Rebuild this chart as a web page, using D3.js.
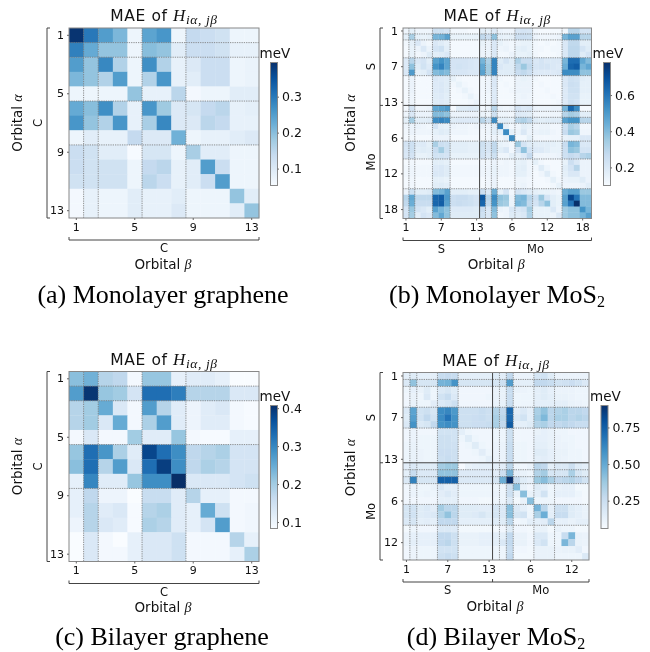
<!DOCTYPE html>
<html>
<head>
<meta charset="utf-8">
<script src="https://cdn.jsdelivr.net/npm/d3@7"></script>
<style>
  html, body { margin: 0; padding: 0; background: #fff; }
  svg { display: block; filter: blur(0.45px); }
  text { font-family: "DejaVu Sans", sans-serif; fill: #111; }
  .math { font-family: "Liberation Serif", serif; font-style: italic; }
  .caption { font-family: "Liberation Serif", serif; font-size: 26px; fill: #000; }
  .domain { display: none; }
</style>
</head>
<body>
<div id="vis"></div>
<script>
// mean absolute error, one matrix per material (rows = alpha, columns = beta)
var monoGraphene = [
  [.39,.30,.25,.21,.07,.24,.26,.07,.14,.13,.12,.07,.07],
  [.29,.23,.19,.19,.07,.20,.19,.09,.13,.13,.12,.08,.08],
  [.25,.19,.28,.16,.07,.27,.16,.08,.10,.13,.13,.07,.075],
  [.21,.19,.16,.25,.07,.16,.26,.08,.09,.13,.13,.07,.075],
  [.07,.07,.07,.07,.19,.08,.08,.15,.06,.07,.07,.09,.09],
  [.23,.20,.27,.16,.08,.26,.18,.10,.11,.14,.15,.08,.085],
  [.26,.19,.16,.26,.08,.17,.28,.10,.10,.15,.14,.08,.08],
  [.07,.09,.08,.08,.14,.10,.10,.22,.07,.08,.08,.09,.10],
  [.13,.12,.09,.09,.055,.11,.11,.07,.17,.09,.09,.07,.07],
  [.13,.12,.12,.12,.07,.14,.15,.08,.09,.25,.13,.07,.07],
  [.12,.12,.12,.12,.07,.15,.13,.08,.09,.13,.25,.07,.07],
  [.06,.08,.07,.07,.09,.08,.08,.09,.07,.07,.07,.19,.09],
  [.06,.08,.07,.07,.09,.08,.08,.10,.07,.07,.07,.09,.19]
];

var biGraphene = [
  [.22,.24,.18,.17,.09,.21,.21,.11,.12,.12,.11,.08,.08],
  [.27,.40,.21,.20,.14,.33,.33,.31,.18,.18,.18,.13,.13],
  [.18,.20,.25,.13,.09,.27,.18,.12,.10,.12,.13,.09,.085],
  [.18,.20,.13,.25,.09,.19,.27,.12,.10,.12,.12,.09,.085],
  [.09,.13,.09,.09,.20,.12,.12,.21,.09,.085,.085,.11,.11],
  [.21,.33,.28,.19,.12,.38,.33,.29,.17,.18,.19,.14,.14],
  [.22,.33,.18,.27,.13,.33,.39,.29,.17,.19,.18,.14,.14],
  [.11,.30,.12,.12,.21,.29,.29,.41,.13,.13,.13,.14,.15],
  [.11,.17,.10,.10,.08,.16,.16,.12,.18,.11,.11,.09,.09],
  [.11,.18,.12,.13,.085,.18,.19,.12,.11,.25,.15,.09,.095],
  [.10,.18,.13,.12,.085,.19,.18,.12,.11,.14,.27,.09,.095],
  [.08,.13,.09,.08,.11,.13,.13,.15,.09,.09,.09,.18,.11],
  [.08,.13,.09,.09,.11,.13,.13,.15,.09,.09,.09,.11,.19]
];

var monoMoS2 = [
  [.13,.16,.13,.13,.13,.24,.24,.22,.12,.12,.12,.11,.11,.17,.16,.19,.14,.13,.13,.21,.22,.21,.12,.11,.11,.11,.11,.12,.30,.30,.22,.22],
  [.16,.33,.16,.15,.16,.42,.43,.48,.15,.15,.15,.15,.15,.28,.25,.38,.16,.15,.16,.25,.25,.24,.14,.13,.13,.13,.14,.42,.48,.48,.30,.30],
  [.12,.16,.20,.14,.12,.20,.18,.16,.11,.11,.11,.11,.11,.15,.14,.20,.15,.13,.12,.14,.15,.15,.12,.11,.12,.11,.12,.20,.28,.28,.17,.17],
  [.11,.15,.14,.20,.14,.22,.24,.17,.11,.11,.11,.11,.11,.14,.14,.20,.13,.14,.12,.16,.17,.15,.12,.12,.11,.12,.12,.20,.29,.29,.22,.18],
  [.11,.15,.12,.14,.18,.17,.18,.20,.11,.11,.11,.11,.11,.14,.14,.20,.12,.12,.14,.15,.15,.16,.12,.11,.11,.11,.12,.20,.29,.29,.18,.22],
  [.19,.30,.20,.22,.17,.48,.52,.47,.22,.22,.22,.21,.20,.42,.32,.56,.18,.22,.18,.32,.26,.26,.20,.22,.20,.20,.20,.42,.62,.62,.46,.40],
  [.19,.38,.18,.23,.19,.52,.56,.47,.22,.23,.22,.21,.20,.46,.34,.56,.20,.18,.18,.28,.36,.28,.21,.22,.22,.20,.19,.44,.64,.66,.42,.46],
  [.20,.50,.16,.17,.22,.40,.42,.40,.21,.21,.21,.20,.20,.48,.34,.56,.18,.18,.18,.26,.28,.25,.19,.19,.19,.19,.20,.54,.54,.54,.38,.38],
  [.11,.14,.11,.11,.11,.20,.19,.18,.15,.12,.11,.11,.11,.12,.13,.20,.12,.11,.11,.14,.15,.14,.12,.11,.11,.11,.11,.20,.24,.23,.17,.16],
  [.11,.14,.11,.11,.11,.19,.20,.18,.12,.15,.12,.11,.11,.12,.13,.20,.11,.12,.11,.14,.14,.14,.11,.12,.11,.11,.11,.20,.25,.24,.16,.16],
  [.11,.14,.11,.11,.11,.19,.20,.18,.11,.12,.15,.12,.11,.12,.13,.19,.11,.11,.12,.14,.14,.14,.11,.11,.12,.11,.11,.19,.24,.24,.16,.16],
  [.11,.13,.11,.11,.11,.18,.19,.17,.11,.11,.12,.15,.12,.12,.12,.19,.11,.11,.11,.13,.14,.13,.11,.11,.11,.12,.11,.19,.23,.23,.15,.15],
  [.11,.13,.11,.11,.11,.18,.19,.18,.11,.11,.11,.12,.14,.12,.12,.19,.11,.11,.11,.13,.13,.13,.11,.11,.11,.11,.12,.19,.24,.22,.15,.15],
  [.11,.22,.13,.13,.14,.46,.48,.50,.11,.18,.18,.19,.18,.12,.14,.30,.14,.13,.14,.22,.19,.20,.14,.14,.14,.14,.14,.42,.64,.54,.11,.11],
  [.13,.20,.14,.14,.14,.40,.40,.38,.14,.14,.14,.14,.14,.14,.13,.24,.13,.13,.12,.19,.18,.17,.13,.13,.13,.13,.13,.30,.34,.32,.17,.17],
  [.16,.34,.17,.17,.18,.54,.56,.54,.18,.19,.19,.19,.18,.30,.24,.54,.17,.17,.16,.30,.32,.28,.18,.17,.18,.18,.18,.48,.52,.52,.30,.30],
  [.13,.14,.14,.13,.12,.22,.16,.15,.14,.13,.13,.12,.13,.14,.13,.17,.55,.16,.12,.13,.17,.15,.13,.14,.14,.12,.12,.24,.33,.30,.12,.12],
  [.12,.14,.13,.13,.13,.16,.18,.17,.13,.13,.13,.12,.12,.12,.13,.17,.16,.54,.16,.14,.20,.14,.14,.15,.15,.13,.12,.26,.36,.34,.13,.13],
  [.11,.12,.11,.11,.11,.14,.14,.14,.11,.11,.11,.11,.11,.12,.12,.14,.12,.15,.54,.12,.12,.16,.12,.12,.12,.12,.12,.15,.16,.16,.20,.20],
  [.22,.24,.18,.19,.16,.33,.25,.24,.17,.17,.17,.16,.16,.24,.21,.28,.15,.14,.12,.36,.22,.18,.17,.17,.17,.16,.15,.26,.42,.40,.20,.20],
  [.21,.24,.17,.18,.17,.26,.34,.24,.17,.17,.17,.16,.16,.23,.21,.28,.17,.20,.12,.22,.38,.22,.19,.19,.17,.15,.15,.25,.38,.36,.22,.22],
  [.20,.22,.15,.15,.16,.23,.23,.22,.15,.15,.15,.15,.15,.22,.19,.24,.13,.13,.16,.16,.19,.27,.13,.13,.13,.13,.14,.24,.27,.25,.30,.32],
  [.11,.12,.11,.11,.11,.17,.17,.16,.11,.11,.11,.11,.11,.12,.12,.14,.12,.13,.12,.15,.16,.13,.16,.12,.11,.11,.11,.15,.25,.20,.14,.14],
  [.12,.13,.12,.12,.12,.19,.20,.18,.12,.12,.12,.12,.12,.13,.13,.15,.13,.13,.12,.16,.17,.13,.12,.18,.13,.11,.11,.17,.22,.30,.14,.14],
  [.12,.13,.12,.12,.12,.20,.20,.18,.12,.12,.12,.12,.12,.13,.13,.15,.13,.13,.12,.16,.16,.13,.11,.13,.18,.12,.11,.16,.20,.20,.14,.14],
  [.11,.12,.11,.11,.11,.16,.16,.15,.11,.11,.11,.11,.11,.11,.12,.14,.11,.11,.11,.13,.13,.12,.11,.11,.12,.16,.12,.14,.15,.15,.18,.14],
  [.11,.12,.11,.11,.11,.17,.18,.17,.11,.11,.11,.11,.11,.11,.12,.14,.11,.11,.11,.13,.14,.12,.11,.11,.11,.12,.15,.13,.13,.13,.14,.17],
  [.14,.24,.17,.17,.18,.40,.42,.48,.17,.17,.17,.16,.16,.25,.20,.44,.16,.22,.12,.22,.20,.18,.16,.15,.15,.14,.13,.44,.48,.48,.36,.36],
  [.30,.46,.28,.28,.28,.64,.66,.50,.25,.26,.26,.24,.22,.68,.30,.54,.38,.36,.14,.40,.42,.30,.24,.36,.22,.17,.15,.48,.72,.60,.40,.40],
  [.28,.44,.26,.26,.26,.64,.66,.48,.25,.26,.25,.24,.22,.64,.28,.52,.36,.34,.14,.42,.40,.28,.22,.30,.38,.17,.15,.48,.60,.78,.40,.40],
  [.22,.36,.22,.20,.17,.48,.42,.38,.19,.19,.19,.19,.18,.26,.20,.40,.14,.13,.20,.20,.22,.34,.15,.15,.15,.20,.14,.35,.38,.38,.52,.42],
  [.22,.34,.17,.22,.20,.40,.46,.38,.18,.18,.18,.18,.18,.24,.20,.38,.12,.13,.18,.18,.20,.32,.15,.15,.15,.14,.20,.35,.38,.38,.42,.48]
];

var biMoS2 = [
  [.14,.16,.14,.14,.14,.26,.27,.26,.14,.14,.14,.14,.14,.16,.15,.28,.11,.11,.11,.20,.22,.16,.11,.11,.11,.11,.11],
  [.18,.40,.20,.20,.20,.46,.47,.58,.20,.20,.20,.20,.20,.20,.24,.55,.15,.14,.14,.28,.28,.26,.22,.23,.25,.22,.18],
  [.10,.13,.12,.16,.10,.18,.20,.16,.09,.09,.09,.09,.09,.12,.12,.26,.12,.11,.10,.14,.16,.13,.11,.11,.11,.10,.10],
  [.09,.12,.10,.18,.10,.22,.26,.18,.09,.09,.09,.09,.10,.12,.12,.26,.10,.10,.10,.14,.16,.14,.12,.12,.11,.10,.10],
  [.09,.12,.10,.10,.15,.18,.20,.24,.09,.09,.09,.09,.09,.12,.12,.26,.10,.10,.10,.14,.14,.14,.14,.14,.12,.11,.10],
  [.18,.52,.22,.24,.20,.60,.62,.56,.24,.24,.24,.26,.24,.32,.28,.72,.15,.18,.14,.34,.40,.30,.32,.34,.30,.30,.28],
  [.16,.54,.22,.28,.22,.60,.68,.58,.24,.24,.25,.26,.24,.34,.30,.72,.18,.22,.14,.36,.44,.30,.34,.34,.30,.32,.30],
  [.18,.58,.18,.20,.28,.58,.60,.58,.24,.24,.25,.25,.26,.34,.28,.76,.14,.14,.16,.32,.34,.28,.28,.30,.28,.26,.26],
  [.09,.11,.09,.09,.09,.22,.22,.22,.14,.10,.09,.09,.09,.10,.10,.24,.09,.09,.09,.12,.13,.12,.10,.10,.09,.09,.09],
  [.09,.11,.10,.10,.10,.24,.24,.22,.10,.16,.10,.09,.09,.10,.10,.24,.09,.09,.09,.13,.13,.12,.11,.10,.10,.09,.09],
  [.10,.12,.10,.10,.10,.24,.24,.23,.09,.10,.16,.10,.09,.11,.11,.26,.10,.10,.09,.14,.14,.12,.11,.11,.10,.09,.09],
  [.10,.12,.11,.10,.10,.25,.25,.24,.09,.09,.10,.15,.10,.11,.11,.26,.10,.10,.09,.16,.16,.13,.12,.12,.10,.10,.09],
  [.10,.12,.11,.10,.10,.24,.26,.24,.09,.09,.09,.10,.14,.11,.11,.26,.10,.10,.09,.14,.15,.13,.12,.11,.10,.10,.09],
  [.15,.18,.16,.16,.16,.36,.38,.38,.07,.12,.13,.14,.14,.14,.15,.30,.10,.09,.11,.30,.28,.14,.18,.18,.24,.16,.14],
  [.14,.26,.18,.18,.18,.40,.40,.40,.17,.17,.17,.17,.17,.15,.24,.46,.14,.12,.10,.32,.36,.20,.20,.20,.34,.20,.16],
  [.18,.64,.20,.20,.20,.74,.74,.74,.18,.18,.18,.18,.18,.20,.48,.90,.26,.16,.13,.38,.42,.34,.28,.30,.32,.28,.22],
  [.09,.11,.10,.10,.12,.18,.14,.14,.10,.10,.10,.10,.10,.10,.10,.24,.42,.12,.09,.16,.14,.10,.12,.13,.13,.08,.08],
  [.09,.11,.10,.11,.10,.15,.18,.15,.10,.10,.10,.10,.10,.11,.10,.24,.12,.42,.12,.14,.22,.10,.13,.13,.13,.10,.08],
  [.09,.09,.09,.09,.09,.14,.14,.14,.09,.09,.09,.08,.08,.10,.10,.18,.08,.12,.42,.10,.10,.10,.09,.09,.09,.09,.08],
  [.20,.22,.16,.18,.15,.36,.30,.30,.16,.16,.16,.15,.15,.20,.18,.42,.18,.14,.10,.46,.30,.14,.24,.24,.16,.14,.12],
  [.20,.22,.16,.17,.18,.32,.40,.30,.16,.16,.17,.20,.16,.20,.18,.42,.20,.22,.10,.34,.48,.14,.26,.26,.16,.14,.12],
  [.18,.20,.14,.15,.14,.28,.28,.28,.14,.14,.14,.14,.14,.16,.16,.30,.09,.10,.14,.14,.15,.30,.13,.13,.12,.14,.14],
  [.08,.10,.09,.09,.09,.18,.18,.17,.08,.08,.08,.08,.08,.08,.09,.16,.09,.09,.08,.12,.12,.08,.12,.10,.10,.08,.08],
  [.11,.13,.13,.13,.13,.28,.28,.24,.12,.12,.12,.13,.13,.14,.14,.28,.12,.12,.09,.18,.18,.10,.10,.26,.45,.12,.11],
  [.11,.14,.13,.13,.13,.28,.30,.24,.12,.12,.12,.13,.13,.14,.18,.28,.12,.12,.09,.18,.22,.10,.10,.45,.30,.12,.11],
  [.09,.11,.10,.10,.10,.22,.22,.22,.10,.10,.10,.10,.10,.10,.10,.26,.09,.09,.08,.12,.12,.12,.11,.12,.12,.15,.09],
  [.09,.11,.10,.10,.10,.24,.26,.24,.10,.10,.10,.10,.10,.10,.10,.28,.08,.08,.08,.12,.12,.12,.10,.10,.10,.10,.18]
];

// orbital group boundaries and tick labels
var groupsC = [1, 2, 5, 8];
var groupsMono = [1, 2, 5, 8, 13, 14, 15, 16, 19, 22, 27];
var groupsBi = [1, 2, 5, 8, 13, 14, 15, 16, 19, 22];
var ticksC = ["1", "5", "9", "13"];
var ticksMono = ["1", "7", "13", "6", "12", "18"];
var ticksBi = ["1", "7", "13", "6", "12"];
var barTicksA = [0.1, 0.2, 0.3];
var barTicksB = [0.2, 0.4, 0.6];
var barTicksC = [0.1, 0.2, 0.3, 0.4];
var barTicksD = [0.25, 0.5, 0.75];

var panels = [
  { m: monoGraphene, groups: groupsC, ticks: ticksC, step: 4, atoms: [["C", 13]], range: [0.053, 0.395], barTicks: barTicksA, fmt: ".1f",
    x0: 69, x1: 259, y0: 28, y1: 218, brL: 47, barX: 270.5, barY: 62.5, caption: "(a) Monolayer graphene", capX: 163, capY: 303 },
  { m: monoMoS2, groups: groupsMono, ticks: ticksMono, step: 6, atoms: [["S", 13], ["Mo", 19]], range: [0.10, 0.78], barTicks: barTicksB, fmt: ".1f",
    x0: 403, x1: 591.5, y0: 28, y1: 218.5, brL: 380, barX: 603.5, barY: 62.5, caption: "(b) Monolayer MoS", capX: 497, capY: 303 },
  { m: biGraphene, groups: groupsC, ticks: ticksC, step: 4, atoms: [["C", 13]], range: [0.083, 0.407], barTicks: barTicksC, fmt: ".1f",
    x0: 69, x1: 259, y0: 371.5, y1: 561.5, brL: 47, barX: 270.5, barY: 405.5, caption: "(c) Bilayer graphene", capX: 162, capY: 645 },
  { m: biMoS2, groups: groupsBi, ticks: ticksBi, step: 6, atoms: [["S", 13], ["Mo", 14]], range: [0.06, 0.90], barTicks: barTicksD, fmt: ".2f",
    x0: 403, x1: 589, y0: 372.5, y1: 560, brL: 380, barX: 601, barY: 405.5, caption: "(d) Bilayer MoS", capX: 496, capY: 645 }
];

var svg = d3.select("#vis").append("svg").attr("width", 650).attr("height", 652);
var blues = d3.piecewise(d3.interpolateRgb, d3.schemeBlues[9]);

panels.forEach(function(p, idx) {
  var n = p.m.length;
  var g = svg.append("g");
  var x = d3.scaleBand().domain(d3.range(n)).range([p.x0, p.x1]);
  var y = d3.scaleBand().domain(d3.range(n)).range([p.y0, p.y1]);
  var colour = d3.scaleSequential(blues).domain(p.range);

  // cells
  p.m.forEach(function(row, r) {
    g.selectAll(".c" + r)
      .data(row)
      .enter()
      .append("rect")
      .attr("class", "c" + r)
      .attr("x", function(d, c) { return x(c); })
      .attr("y", y(r))
      .attr("width", x.bandwidth() + 0.3)
      .attr("height", y.bandwidth() + 0.3)
      .attr("fill", function(d) { return colour(d); });
  });

  // orbital group lines, the S/Mo one is solid
  p.groups.forEach(function(b) {
    var solid = b === 13;
    var px = p.x0 + b * x.step();
    var py = p.y0 + b * y.step();
    [[px, p.y0, px, p.y1], [p.x0, py, p.x1, py]].forEach(function(l) {
      g.append("line")
        .attr("x1", l[0]).attr("y1", l[1]).attr("x2", l[2]).attr("y2", l[3])
        .attr("stroke", solid ? "#444" : "#777")
        .attr("stroke-width", solid ? 1 : 0.8)
        .attr("stroke-dasharray", solid ? null : "1.3,1");
    });
  });

  g.append("rect")
    .attr("x", p.x0).attr("y", p.y0)
    .attr("width", p.x1 - p.x0).attr("height", p.y1 - p.y0)
    .attr("fill", "none").attr("stroke", "#888").attr("stroke-width", 1);

  // axes
  var tickVals = p.ticks.map(function(t, i) { return i * p.step; });
  var fmt = function(v) { return p.ticks[v / p.step]; };
  var ax = g.append("g").attr("transform", "translate(0," + p.y1 + ")")
    .call(d3.axisBottom(x).tickValues(tickVals).tickFormat(fmt).tickSize(2).tickPadding(3));
  var ay = g.append("g").attr("transform", "translate(" + p.x0 + ",0)")
    .call(d3.axisLeft(y).tickValues(tickVals).tickFormat(fmt).tickSize(2).tickPadding(3));
  [ax, ay].forEach(function(a) {
    a.attr("font-family", null).attr("font-size", null);
    a.selectAll("text").style("font-size", "11px");
    a.selectAll("line").attr("stroke", "#666");
  });

  // atom brackets
  var brB = p.y1 + 22;
  var cum = 0;
  var cuts = [0];
  p.atoms.forEach(function(a) { cum += a[1]; cuts.push(cum); });
  g.append("path")
    .attr("fill", "none").attr("stroke", "#444").attr("stroke-width", 1)
    .attr("d", "M" + p.x0 + "," + (brB - 3) + "V" + brB + "H" + p.x1 + "V" + (brB - 3)
      + (cuts.length > 2 ? "M" + (p.x0 + cuts[1] * x.step()) + "," + (brB - 3) + "V" + brB : ""));
  g.append("path")
    .attr("fill", "none").attr("stroke", "#444").attr("stroke-width", 1)
    .attr("d", "M" + (p.brL + 3) + "," + p.y0 + "H" + p.brL + "V" + p.y1 + "H" + (p.brL + 3)
      + (cuts.length > 2 ? "M" + (p.brL + 3) + "," + (p.y0 + cuts[1] * y.step()) + "H" + p.brL : ""));
  p.atoms.forEach(function(a, i) {
    var mid = (cuts[i] + cuts[i + 1]) / 2;
    g.append("text")
      .attr("x", p.x0 + mid * x.step()).attr("y", brB + 8)
      .attr("dy", "0.35em").attr("text-anchor", "middle").style("font-size", "11.5px")
      .text(a[0]);
    g.append("text")
      .attr("transform", "translate(" + (p.brL - 9) + "," + (p.y0 + mid * y.step()) + ") rotate(-90)")
      .attr("dy", "0.35em").attr("text-anchor", "middle").style("font-size", "11.5px")
      .text(a[0]);
  });

  // axis titles
  var xt = g.append("text")
    .attr("x", (p.x0 + p.x1) / 2 - 1).attr("y", brB + 24)
    .attr("dy", "0.35em").attr("text-anchor", "middle").style("font-size", "13.5px")
    .text("Orbital ");
  xt.append("tspan").attr("class", "math").style("font-size", "14px").text("β");
  var yt = g.append("text")
    .attr("transform", "translate(" + (p.brL - 30) + "," + (p.y0 + 95) + ") rotate(-90)")
    .attr("dy", "0.35em").attr("text-anchor", "middle").style("font-size", "13.5px")
    .text("Orbital ");
  yt.append("tspan").attr("class", "math").style("font-size", "14px").text("α");

  // title
  var title = g.append("text")
    .attr("x", (p.x0 + p.x1) / 2).attr("y", p.y0 - 12)
    .attr("dy", "0.35em").attr("text-anchor", "middle").style("font-size", "15.5px")
    .style("letter-spacing", "0.6px")
    .text("MAE of ");
  title.append("tspan").attr("class", "math").style("font-size", "17px").text("H");
  title.append("tspan").attr("class", "math").attr("dy", 3).style("font-size", "13.5px").text("iα, jβ");

  // colour bar
  var barH = 123;
  var barW = 7;
  var gradId = "bar" + idx;
  svg.append("linearGradient").attr("id", gradId)
    .attr("x1", 0).attr("y1", 1).attr("x2", 0).attr("y2", 0)
    .selectAll("stop").data(d3.range(0, 1.01, 0.125)).enter().append("stop")
    .attr("offset", function(d) { return d; })
    .attr("stop-color", function(d) { return blues(d); });
  g.append("rect")
    .attr("x", p.barX).attr("y", p.barY).attr("width", barW).attr("height", barH)
    .attr("fill", "url(#" + gradId + ")").attr("stroke", "#888").attr("stroke-width", 1);
  var barScale = d3.scaleLinear().domain(p.range).range([p.barY + barH, p.barY]);
  var bar = g.append("g").attr("transform", "translate(" + (p.barX + barW) + ",0)")
    .call(d3.axisRight(barScale).tickValues(p.barTicks).tickFormat(d3.format(p.fmt)).tickSize(1.5).tickPadding(3));
  bar.attr("font-family", null).attr("font-size", null);
  bar.selectAll("text").style("font-size", "12.5px");
  bar.selectAll("line").attr("stroke", "#666");
  g.append("text")
    .attr("x", p.barX - 11).attr("y", p.barY - 9)
    .attr("dy", "0.35em").style("font-size", "13.5px")
    .text("meV");

  // caption under the panel
  var cap = g.append("text").attr("class", "caption")
    .attr("x", p.capX).attr("y", p.capY).attr("text-anchor", "middle")
    .text(p.caption);
  if (p.caption.indexOf("MoS") >= 0) {
    cap.append("tspan").attr("dy", 4).style("font-size", "16px").text("2");
  }
});
</script>
</body>
</html>
